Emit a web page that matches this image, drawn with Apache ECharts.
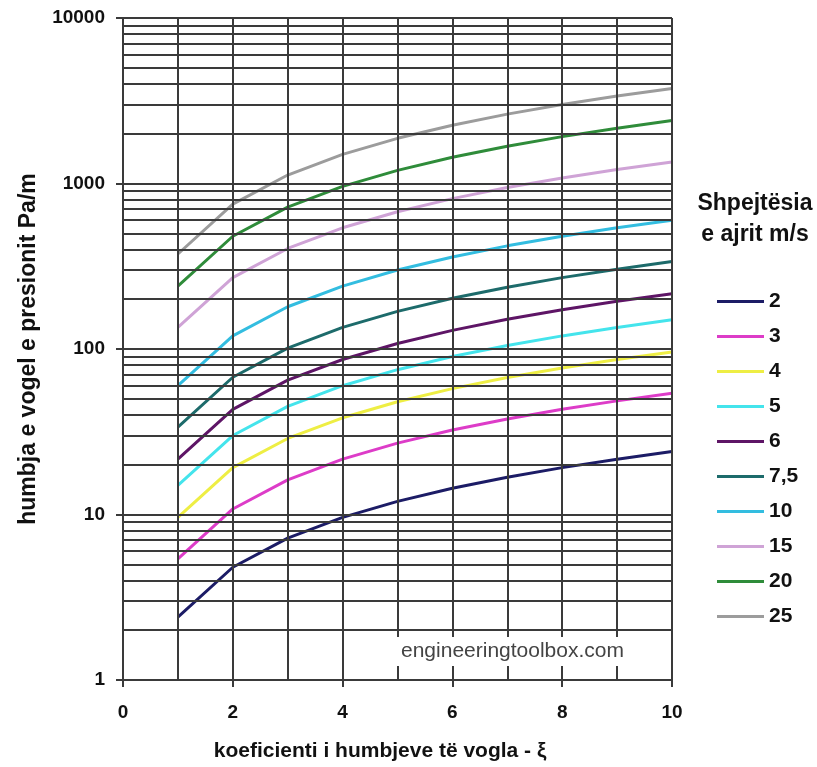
<!DOCTYPE html>
<html>
<head>
<meta charset="utf-8">
<script src="https://cdn.jsdelivr.net/npm/echarts@6/dist/echarts.min.js"></script>
<style>
  html, body { margin: 0; padding: 0; background: #ffffff; }
  #chart { width: 817px; height: 767px; }
</style>
</head>
<body>
<div id="chart"></div>
<script>
// Minor loss coefficient (x axis)
const xi = [1, 2, 3, 4, 5, 6, 7, 8, 9, 10];

// Air velocity labels (m/s), one per curve
const speeds = ['2', '3', '4', '5', '6', '7,5', '10', '15', '20', '25'];

// Pressure loss in Pa/m for each air velocity
const loss2  = [2.4, 4.8, 7.2, 9.6, 12, 14.4, 16.8, 19.2, 21.6, 24];
const loss3  = [5.4, 10.8, 16.2, 21.6, 27, 32.4, 37.8, 43.2, 48.6, 54];
const loss4  = [9.6, 19.2, 28.8, 38.4, 48, 57.6, 67.2, 76.8, 86.4, 96];
const loss5  = [15, 30, 45, 60, 75, 90, 105, 120, 135, 150];
const loss6  = [21.6, 43.2, 64.8, 86.4, 108, 129.6, 151.2, 172.8, 194.4, 216];
const loss75 = [33.75, 67.5, 101.25, 135, 168.75, 202.5, 236.25, 270, 303.75, 337.5];
const loss10 = [60, 120, 180, 240, 300, 360, 420, 480, 540, 600];
const loss15 = [135, 270, 405, 540, 675, 810, 945, 1080, 1215, 1350];
const loss20 = [240, 480, 720, 960, 1200, 1440, 1680, 1920, 2160, 2400];
const loss25 = [375, 750, 1125, 1500, 1875, 2250, 2625, 3000, 3375, 3750];

const lossSeries = [loss2, loss3, loss4, loss5, loss6, loss75, loss10, loss15, loss20, loss25];

// Log axis decades and the in-between gridline multipliers
const decades = [1, 10, 100, 1000];
const minorMultipliers = [2, 3, 4, 5, 6, 7, 8, 9];

const lineColors = ['#1c1c66', '#dd3cc8', '#eeee44', '#44e4ec', '#5e1566',
                    '#1d6b6b', '#33bde0', '#cfa3d6', '#2f8c3a', '#9c9c9c'];

const FONT = "'Liberation Sans', Arial, sans-serif";
const GRID_COLOR = '#3a3a3a';

const minorGrid = [];
decades.forEach(d => minorMultipliers.forEach(m => minorGrid.push({ yAxis: d * m })));

const series = lossSeries.map((vals, i) => {
  const s = {
    name: speeds[i],
    type: 'line',
    data: xi.map((x, j) => [x, vals[j]]),
    symbol: 'none',
    smooth: false,
    z: 1,
    lineStyle: { width: 3, color: lineColors[i] },
    itemStyle: { color: lineColors[i] },
    emphasis: { disabled: true },
    animation: false
  };
  if (i === 0) {
    // horizontal gridlines between the decades (2..9 of each decade)
    s.markLine = {
      silent: true,
      symbol: 'none',
      animation: false,
      label: { show: false },
      emphasis: { disabled: true },
      lineStyle: { type: 'solid', color: GRID_COLOR, width: 2 },
      data: minorGrid
    };
  }
  return s;
});

const chart = echarts.init(document.getElementById('chart'), null, { renderer: 'canvas' });

chart.setOption({
  backgroundColor: '#ffffff',
  animation: false,
  textStyle: { fontFamily: FONT },
  grid: { left: 123, right: 145, top: 18, bottom: 87, containLabel: false },
  title: {
    text: 'Shpejtësia\ne ajrit m/s',
    left: 750,
    top: 183,
    textAlign: 'center',
    textStyle: { fontFamily: FONT, fontSize: 23, fontWeight: 'bold', color: '#111', lineHeight: 31 }
  },
  legend: {
    orient: 'vertical',
    left: 712,
    top: 286,
    icon: 'rect',
    itemWidth: 47,
    itemHeight: 3,
    itemGap: 14,
    selectedMode: false,
    data: speeds,
    textStyle: { fontFamily: FONT, fontSize: 21, fontWeight: 'bold', color: '#111', lineHeight: 21 }
  },
  xAxis: {
    type: 'value',
    min: 0,
    max: 10,
    interval: 2,
    z: 3,
    name: 'koeficienti i humbjeve të vogla - ξ',
    nameLocation: 'middle',
    nameGap: 61,
    nameTextStyle: { fontFamily: FONT, fontSize: 21, fontWeight: 'bold', color: '#111', padding: [0, 35, 0, 0] },
    axisLine: { show: true, onZero: false, lineStyle: { color: GRID_COLOR, width: 2 } },
    axisTick: { show: true, inside: false, length: 7, lineStyle: { color: GRID_COLOR, width: 2 } },
    minorTick: { show: false, splitNumber: 2 },
    axisLabel: { margin: 23, fontFamily: FONT, fontSize: 19, fontWeight: 'bold', color: '#111' },
    splitLine: { show: true, lineStyle: { color: GRID_COLOR, width: 2 } },
    minorSplitLine: { show: true, lineStyle: { color: GRID_COLOR, width: 2 } }
  },
  yAxis: {
    type: 'log',
    logBase: 10,
    min: 1,
    max: 10000,
    z: 3,
    name: 'humbja e vogel e presionit Pa/m',
    nameLocation: 'middle',
    nameGap: 83,
    nameRotate: 90,
    nameTextStyle: { fontFamily: FONT, fontSize: 23, fontWeight: 'bold', color: '#111' },
    axisLine: { show: true, onZero: false, lineStyle: { color: GRID_COLOR, width: 2 } },
    axisTick: { show: true, inside: false, length: 7, lineStyle: { color: GRID_COLOR, width: 2 } },
    axisLabel: {
      margin: 18, fontFamily: FONT, fontSize: 19, fontWeight: 'bold', color: '#111',
      formatter: v => String(Math.round(v))
    },
    splitLine: { show: true, lineStyle: { color: GRID_COLOR, width: 2 } }
  },
  graphic: [{
    type: 'text',
    left: 397,
    top: 637,
    z: 10,
    silent: true,
    style: {
      text: 'engineeringtoolbox.com',
      fontFamily: FONT,
      fontSize: 21,
      fill: '#444',
      backgroundColor: '#ffffff',
      padding: [4, 6, 4, 4]
    }
  }],
  series: series
});
</script>
</body>
</html>
